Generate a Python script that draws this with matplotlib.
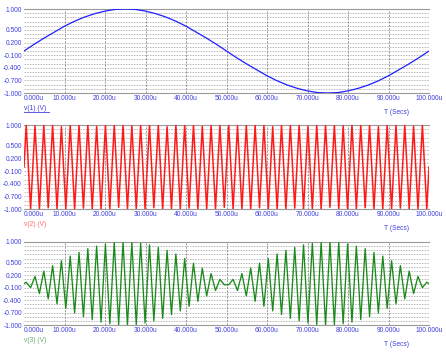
import numpy as np
import matplotlib.pyplot as plt
from matplotlib.lines import Line2D

plt.rcParams['font.family'] = ['Liberation Sans', 'DejaVu Sans']

W, H = 446, 354

# time axis, micro-seconds
x_ticks = [0, 10, 20, 30, 40, 50, 60, 70, 80, 90, 100]
x_tick_labels = ["0.000u", "10.000u", "20.000u", "30.000u", "40.000u", "50.000u",
                 "60.000u", "70.000u", "80.000u", "90.000u", "100.000u"]
y_ticks = [-1.0, -0.7, -0.4, -0.1, 0.2, 0.5, 1.0]
y_tick_labels = ["-1.000", "-0.700", "-0.400", "-0.100", "0.200", "0.500", "1.000"]

# v(1): one slow period, read every 2.5u
v1_step = 2.5
v1 = [0.0, 0.16, 0.31, 0.45, 0.59, 0.71, 0.81, 0.89, 0.95, 0.99, 1.0,
      0.99, 0.95, 0.89, 0.81, 0.71, 0.59, 0.45, 0.31, 0.16, 0.0,
      -0.16, -0.31, -0.45, -0.59, -0.71, -0.81, -0.89, -0.95, -0.99, -1.0,
      -0.99, -0.95, -0.89, -0.81, -0.71, -0.59, -0.45, -0.31, -0.16, 0.0]

# v(2): peaks / troughs of the fast carrier (92 half cycles over 100u)
v2_peaks = [1.0, -1.0, 0.98, -1.0, 1.0, -0.97, 1.0, -1.0, 0.96, -1.0, 1.0, -1.0,
            1.0, -0.98, 1.0, -1.0, 0.97, -1.0, 1.0, -1.0, 1.0, -0.96, 1.0, -1.0,
            0.98, -1.0, 1.0, -1.0, 1.0, -0.97, 1.0, -1.0, 0.96, -1.0, 1.0, -1.0,
            1.0, -0.98, 1.0, -1.0, 0.97, -1.0, 1.0, -1.0, 1.0, -0.96, 1.0, -1.0,
            0.98, -1.0, 1.0, -1.0, 1.0, -0.97, 1.0, -1.0, 0.96, -1.0, 1.0, -1.0,
            1.0, -0.98, 1.0, -1.0, 0.97, -1.0, 1.0, -1.0, 1.0, -0.96, 1.0, -1.0,
            0.98, -1.0, 1.0, -1.0, 1.0, -0.97, 1.0, -1.0, 0.96, -1.0, 1.0, -1.0,
            1.0, -0.98, 1.0, -1.0, 0.97, -1.0, 1.0, -1.0]

# v(3): peaks / troughs of the modulated signal
v3_peaks = [0.03, -0.10, 0.17, -0.24, 0.30, -0.37, 0.43, -0.49, 0.55, -0.60,
            0.66, -0.71, 0.75, -0.80, 0.84, -0.87, 0.90, -0.93, 0.95, -0.97,
            0.99, -0.99, 1.00, -1.00, 0.99, -0.99, 0.97, -0.95, 0.93, -0.90,
            0.87, -0.84, 0.80, -0.75, 0.71, -0.66, 0.60, -0.55, 0.49, -0.43,
            0.37, -0.30, 0.24, -0.17, 0.10, -0.03,
            -0.03, 0.10, -0.17, 0.24, -0.30, 0.37, -0.43, 0.49, -0.55, 0.60,
            -0.66, 0.71, -0.75, 0.80, -0.84, 0.87, -0.90, 0.93, -0.95, 0.97,
            -0.99, 0.99, -1.00, 1.00, -0.99, 0.99, -0.97, 0.95, -0.93, 0.90,
            -0.87, 0.84, -0.80, 0.75, -0.71, 0.66, -0.60, 0.55, -0.49, 0.43,
            -0.37, 0.30, -0.24, 0.17, -0.10, 0.03]

traces = [
    ("v(1) (V)", '#1f1fff', '#3f3fe0', 0.9),
    ("v(2) (V)", '#ff1a1a', '#ff6a6a', 1.1),
    ("v(3) (V)", '#1a8a1a', '#6aaa6a', 0.95),
]
panel_px = [(9, 93), (125, 209), (242, 325)]  # top, bottom in pixels
tick_color = '#4040e0'


def peak_series(peaks):
    # extrema sit in the middle of each half cycle, trace starts and ends at 0
    n = len(peaks)
    t = (np.arange(n) + 0.5) * 100.0 / n
    return np.r_[0, t, 100], np.r_[0, peaks, 0]


series = [
    (np.arange(len(v1)) * v1_step, np.array(v1)),
    peak_series(v2_peaks),
    peak_series(v3_peaks),
]

fig = plt.figure(figsize=(W / 100, H / 100), dpi=100)

for (name, col, lab_col, lw), (top, bot), (t, v) in zip(traces, panel_px, series):
    ax = fig.add_axes([24 / W, 1 - bot / H, 405 / W, (bot - top) / H])
    ax.set_xlim(0, 100)
    ax.set_ylim(-1, 1)

    # background grid
    for yy in np.arange(-0.9, 0.95, 0.1):
        ax.axhline(yy, color='#b4b4b4', lw=0.6, ls=(0, (2, 1.2)), zorder=0)
    for xx in x_ticks[1:]:
        ax.axvline(xx, color='#8a8a8a', lw=0.6, ls=(0, (2.5, 1.5)), zorder=0)
    for s in ['left', 'right']:
        ax.spines[s].set_visible(False)
    for s in ['top', 'bottom']:
        ax.spines[s].set_color('#9a9a9a')
        ax.spines[s].set_linewidth(0.8)

    ax.plot(t, v, color=col, lw=lw, zorder=3)

    ax.set_xticks(x_ticks)
    ax.set_xticklabels(x_tick_labels)
    ax.set_yticks(y_ticks)
    ax.set_yticklabels(y_tick_labels)
    ax.tick_params(length=0, labelsize=4.8, colors=tick_color, pad=1.5)
    ax.get_xticklabels()[0].set_ha('left')

    # trace name and time label under the panel
    fig.text(24 / W, 1 - (bot + 15) / H, name, color=lab_col, fontsize=4.8,
             ha='left', va='center')
    fig.text(397 / W, 1 - (bot + 20) / H, "T (Secs)", color=tick_color,
             fontsize=4.8, ha='center', va='center')

# the first trace name is underlined (selected trace)
fig.add_artist(Line2D([24 / W, 49 / W], [1 - 111.5 / H, 1 - 111.5 / H],
                      color='#3f3fe0', lw=0.6))

fig.savefig('out.png', dpi=100)
